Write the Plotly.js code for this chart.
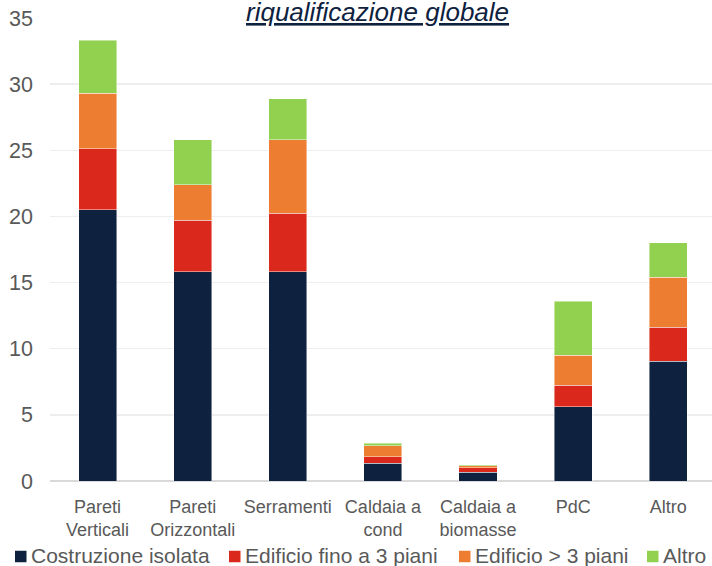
<!DOCTYPE html>
<html>
<head>
<meta charset="utf-8">
<script src="https://cdn.plot.ly/plotly-3.0.1.min.js"></script>
<style>
  html, body { margin: 0; padding: 0; background: #ffffff; }
  #chart { width: 712px; height: 566px; }
</style>
</head>
<body>
<div id="chart"></div>
<script>
// Interventi per tipologia di edificio (valori in %)
const categories = [
  'Pareti<br>Verticali',
  'Pareti<br>Orizzontali',
  'Serramenti',
  'Caldaia a<br>cond',
  'Caldaia a<br>biomasse',
  'PdC',
  'Altro'
];

const seriesNames = [
  'Costruzione isolata',
  'Edificio fino a 3 piani',
  'Edificio > 3 piani',
  'Altro'
];

const costruzioneIsolata = [20.5, 15.8, 15.8, 1.35, 0.68, 5.6, 9.05];
const edificioFino3Piani = [4.6, 3.9, 4.45, 0.47, 0.34, 1.63, 2.58];
const edificioOltre3Piani = [4.23, 2.68, 5.54, 0.84, 0.12, 2.27, 3.79];
const altro = [3.99, 3.42, 3.11, 0.2, 0.07, 4.1, 2.58];

const yTicks = [0, 5, 10, 15, 20, 25, 30, 35];

const seriesValues = [costruzioneIsolata, edificioFino3Piani, edificioOltre3Piani, altro];
const seriesColors = ['#0E2240', '#DA291C', '#ED7D31', '#92D050'];

const W = 712, H = 566;
const M = { l: 50, r: 0, t: 18, b: 85 };
const plotW = W - M.l - M.r;
const plotH = H - M.t - M.b;
const FONT = 'Liberation Sans, Arial, sans-serif';

// pixel -> paper coordinates, used for the legend row under the axis
const toPaperX = px => (px - M.l) / plotW;
const toPaperY = py => (H - M.b - py) / plotH;

const traces = seriesValues.map((vals, i) => ({
  type: 'bar',
  name: seriesNames[i],
  x: categories,
  y: vals,
  marker: {
    color: seriesColors[i],
    line: { color: 'rgba(255,255,255,0.55)', width: 0.8 }
  },
  hoverinfo: 'x+y+name'
}));

// legend row: square swatch followed by its label
const legendLeft = [15, 229, 459, 647];
const swatch = 11.5;
const legendMidY = 556.5;

const legendShapes = seriesNames.map((name, i) => ({
  type: 'rect',
  xref: 'paper', yref: 'paper',
  x0: toPaperX(legendLeft[i]),
  x1: toPaperX(legendLeft[i] + swatch),
  y0: toPaperY(legendMidY - swatch / 2),
  y1: toPaperY(legendMidY + swatch / 2),
  fillcolor: seriesColors[i],
  line: { width: 0 }
}));

const legendLabels = seriesNames.map((name, i) => ({
  text: name,
  xref: 'paper', yref: 'paper',
  x: toPaperX(legendLeft[i] + swatch + 2),
  y: toPaperY(legendMidY - 1),
  xanchor: 'left',
  yanchor: 'middle',
  showarrow: false,
  font: { size: 21, color: '#595959', family: FONT }
}));

const layout = {
  width: W,
  height: H,
  margin: Object.assign({ autoexpand: false }, M),
  paper_bgcolor: '#ffffff',
  plot_bgcolor: '#ffffff',
  barmode: 'stack',
  bargap: 0.6,
  font: { family: FONT, color: '#595959' },
  xaxis: {
    type: 'category',
    range: [-0.5, 6.46],
    showgrid: false,
    zeroline: false,
    showline: false,
    ticks: '',
    ticklabelstandoff: 13,
    tickfont: { size: 18, color: '#595959' },
    fixedrange: true
  },
  yaxis: {
    range: [0, 35],
    tickvals: yTicks,
    ticktext: yTicks.map(String),
    showgrid: true,
    gridcolor: '#EEEEEE',
    gridwidth: 1.5,
    zeroline: true,
    zerolinecolor: '#D9D9D9',
    zerolinewidth: 2,
    showline: false,
    ticks: '',
    ticklabelstandoff: 16,
    tickfont: { size: 21.5, color: '#595959' },
    fixedrange: true
  },
  showlegend: false,
  shapes: legendShapes,
  annotations: [{
    text: '<i><u>riqualificazione globale</u></i>',
    xref: 'paper',
    yref: 'paper',
    x: toPaperX(377.5),
    y: 1.0,
    xanchor: 'center',
    yanchor: 'bottom',
    yshift: -11,
    showarrow: false,
    font: { size: 26, color: '#0E2240', family: FONT }
  }].concat(legendLabels)
};

Plotly.newPlot('chart', traces, layout, { displayModeBar: false, staticPlot: true });
</script>
</body>
</html>
